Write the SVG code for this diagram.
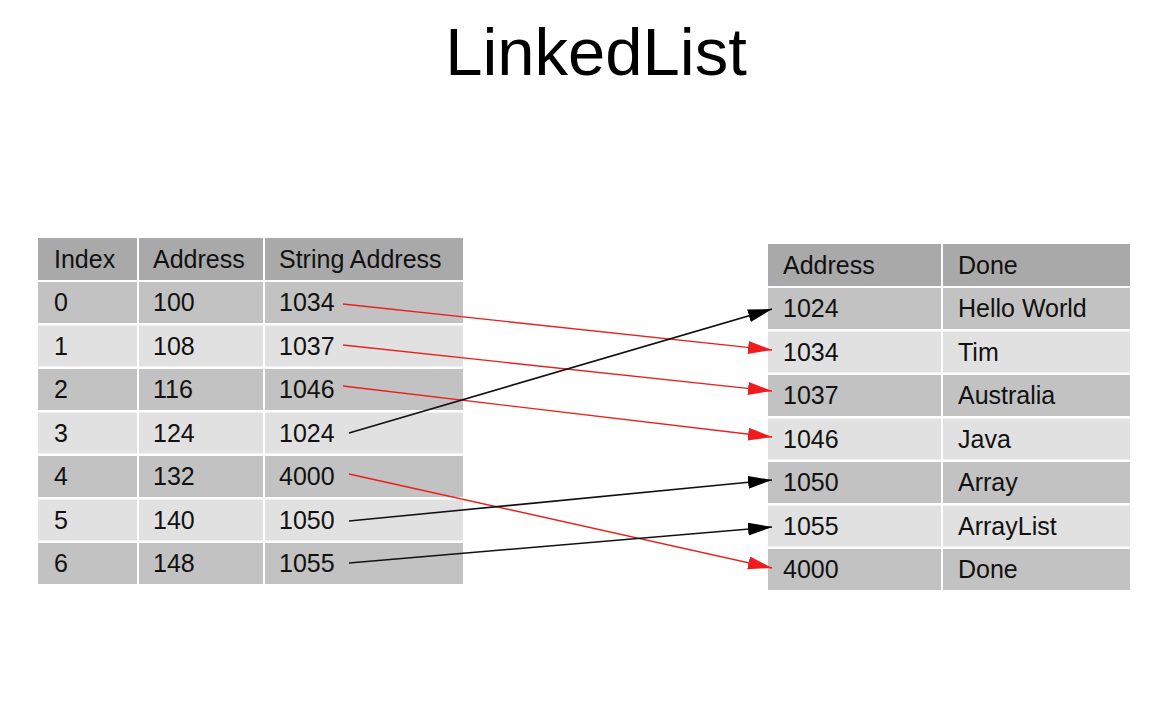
<svg xmlns="http://www.w3.org/2000/svg" width="1169" height="705" viewBox="0 0 1169 705">
<defs>
<style>
text{font-family:"Liberation Sans",Arial,sans-serif;font-size:25px;fill:#111}
.title{font-size:67px;fill:#000}
.h{fill:#a9a9a9}
.d{fill:#c2c2c2}
.l{fill:#e1e1e1}
.red{stroke:#e8201c;stroke-width:1.4;fill:none}
.blk{stroke:#111;stroke-width:1.6;fill:none}
</style>
<marker id="ar" markerUnits="userSpaceOnUse" markerWidth="26" markerHeight="14" refX="24" refY="6.5" orient="auto">
<path d="M0,0 L24,6.5 L0,13 z" fill="#ee1c1c"/>
</marker>
<marker id="ab" markerUnits="userSpaceOnUse" markerWidth="26" markerHeight="14" refX="24" refY="6.5" orient="auto">
<path d="M0,0 L24,6.5 L0,13 z" fill="#000"/>
</marker>
</defs>
<rect width="1169" height="705" fill="#fff"/>
<text class="title" x="596" y="75" text-anchor="middle">LinkedList</text>

<g id="left-table">
<rect class="h" x="38" y="238" width="99" height="42"/><rect class="h" x="139" y="238" width="124" height="42"/><rect class="h" x="265" y="238" width="198" height="42"/>
<text x="54" y="268">Index</text><text x="153" y="268">Address</text><text x="279" y="268">String Address</text>
<g id="lrow0"><rect class="d" x="38" y="282" width="99" height="41"/><rect class="d" x="139" y="282" width="124" height="41"/><rect class="d" x="265" y="282" width="198" height="41"/>
<text x="54" y="311">0</text><text x="153" y="311">100</text><text x="279" y="311">1034</text></g>
<g id="lrow1"><rect class="l" x="38" y="325.5" width="99" height="41"/><rect class="l" x="139" y="325.5" width="124" height="41"/><rect class="l" x="265" y="325.5" width="198" height="41"/>
<text x="54" y="355">1</text><text x="153" y="355">108</text><text x="279" y="355">1037</text></g>
<g id="lrow2"><rect class="d" x="38" y="369" width="99" height="41"/><rect class="d" x="139" y="369" width="124" height="41"/><rect class="d" x="265" y="369" width="198" height="41"/>
<text x="54" y="398">2</text><text x="153" y="398">116</text><text x="279" y="398">1046</text></g>
<g id="lrow3"><rect class="l" x="38" y="412.5" width="99" height="41"/><rect class="l" x="139" y="412.5" width="124" height="41"/><rect class="l" x="265" y="412.5" width="198" height="41"/>
<text x="54" y="442">3</text><text x="153" y="442">124</text><text x="279" y="442">1024</text></g>
<g id="lrow4"><rect class="d" x="38" y="456" width="99" height="41"/><rect class="d" x="139" y="456" width="124" height="41"/><rect class="d" x="265" y="456" width="198" height="41"/>
<text x="54" y="485">4</text><text x="153" y="485">132</text><text x="279" y="485">4000</text></g>
<g id="lrow5"><rect class="l" x="38" y="499.5" width="99" height="41"/><rect class="l" x="139" y="499.5" width="124" height="41"/><rect class="l" x="265" y="499.5" width="198" height="41"/>
<text x="54" y="529">5</text><text x="153" y="529">140</text><text x="279" y="529">1050</text></g>
<g id="lrow6"><rect class="d" x="38" y="543" width="99" height="41"/><rect class="d" x="139" y="543" width="124" height="41"/><rect class="d" x="265" y="543" width="198" height="41"/>
<text x="54" y="572">6</text><text x="153" y="572">148</text><text x="279" y="572">1055</text></g>
</g>

<g id="right-table">
<rect class="h" x="768" y="244" width="173" height="42"/><rect class="h" x="943" y="244" width="187" height="42"/>
<text x="783" y="274">Address</text><text x="958" y="274">Done</text>
<g id="rrow0"><rect class="d" x="768" y="288" width="173" height="41"/><rect class="d" x="943" y="288" width="187" height="41"/>
<text x="783" y="317">1024</text><text x="958" y="317">Hello World</text></g>
<g id="rrow1"><rect class="l" x="768" y="331.5" width="173" height="41"/><rect class="l" x="943" y="331.5" width="187" height="41"/>
<text x="783" y="361">1034</text><text x="958" y="361">Tim</text></g>
<g id="rrow2"><rect class="d" x="768" y="375" width="173" height="41"/><rect class="d" x="943" y="375" width="187" height="41"/>
<text x="783" y="404">1037</text><text x="958" y="404">Australia</text></g>
<g id="rrow3"><rect class="l" x="768" y="418.5" width="173" height="41"/><rect class="l" x="943" y="418.5" width="187" height="41"/>
<text x="783" y="448">1046</text><text x="958" y="448">Java</text></g>
<g id="rrow4"><rect class="d" x="768" y="462" width="173" height="41"/><rect class="d" x="943" y="462" width="187" height="41"/>
<text x="783" y="491">1050</text><text x="958" y="491">Array</text></g>
<g id="rrow5"><rect class="l" x="768" y="505.5" width="173" height="41"/><rect class="l" x="943" y="505.5" width="187" height="41"/>
<text x="783" y="535">1055</text><text x="958" y="535">ArrayList</text></g>
<g id="rrow6"><rect class="d" x="768" y="549" width="173" height="41"/><rect class="d" x="943" y="549" width="187" height="41"/>
<text x="783" y="578">4000</text><text x="958" y="578">Done</text></g>
</g>

<g id="connectors">
<line class="red" x1="343" y1="304" x2="772" y2="350" marker-end="url(#ar)"/>
<line class="red" x1="343" y1="345" x2="772" y2="391" marker-end="url(#ar)"/>
<line class="red" x1="343" y1="386" x2="772" y2="437" marker-end="url(#ar)"/>
<line class="blk" x1="349" y1="433" x2="772" y2="309" marker-end="url(#ab)"/>
<line class="red" x1="349" y1="474" x2="772" y2="568" marker-end="url(#ar)"/>
<line class="blk" x1="349" y1="521" x2="772" y2="480" marker-end="url(#ab)"/>
<line class="blk" x1="349" y1="563" x2="772" y2="527" marker-end="url(#ab)"/>
</g>
</svg>
